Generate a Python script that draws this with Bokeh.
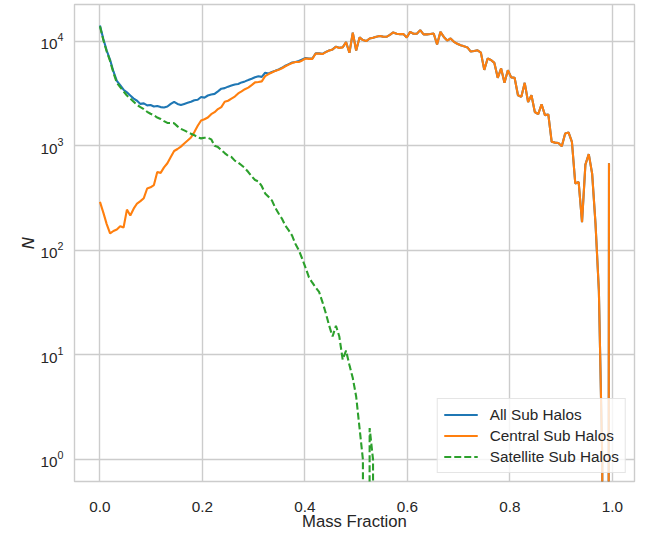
import numpy as np
from bokeh.plotting import figure
from bokeh.models import (FixedTicker, LogTickFormatter, Legend, LegendItem,
                          Range1d, ColumnDataSource)
from bokeh.embed import file_html
from bokeh.resources import INLINE

# ---------------- data ----------------
n_bins = 152
mass_fraction = list(np.arange(n_bins) / n_bins)

all_sub_halos = [
    14130, 10470, 8130, 6610, 5130, 4170, 3800, 3430, 3240, 3020,
    2820, 2690, 2510, 2540, 2430, 2450, 2370, 2400, 2340, 2320,
    2370, 2510, 2630, 2510, 2450, 2510, 2570, 2630, 2720, 2750,
    2920, 2880, 3020, 3090, 3130, 3310, 3510, 3550, 3670, 3760,
    3850, 3890, 4030, 4120, 4240, 4370, 4520, 4620, 4550, 4980,
    4900, 5070, 5200, 5370, 5560, 5820, 6030, 6240, 6310, 6460,
    6680, 6890, 6815, 6810, 7660, 7630, 7550, 7875, 8150, 8335,
    8850, 8625, 8720, 9780, 7740, 12026, 8134, 10842, 10231, 10000,
    10592, 10771, 11020, 11170, 11040, 10990, 11480, 12110, 11750, 11670,
    11670, 10840, 12250, 11750, 11750, 12740, 11590, 11590, 11700, 11830,
    9290, 12250, 10960, 10120, 10590, 9840, 9440, 9120, 8910, 8710,
    7940, 8040, 8170, 7760, 5310, 6820, 6610, 6190, 4460, 5480,
    3990, 5270, 4500, 4470, 3040, 2930, 3990, 2620, 3040, 2100,
    2000, 2490, 1960, 1990, 1090, 1070, 1060, 990, 1310, 1340,
    1090, 435, 450, 186, 660, 830, 540, 180, 41, 1,
    0, 680,
]

central_sub_halos = [
    290, 229, 178, 145, 153, 158, 170, 165, 245, 215,
    250, 280, 295, 315, 390, 400, 420, 560, 550, 620,
    680, 780, 890, 930, 980, 1050, 1120, 1200, 1350, 1550,
    1740, 1790, 1860, 2000, 2090, 2240, 2340, 2630, 2690, 2820,
    2950, 3160, 3310, 3470, 3590, 3800, 4030, 4070, 4120, 4620,
    4840, 5010, 5190, 5310, 5500, 5750, 5960, 6170, 6310, 6310,
    6530, 6820, 6760, 6760, 7620, 7590, 7520, 7850, 8130, 8320,
    8830, 8610, 8710, 9770, 7730, 12020, 8130, 10840, 10230, 10000,
    10590, 10770, 11020, 11170, 11040, 10990, 11480, 12110, 11750, 11670,
    11670, 10840, 12250, 11750, 11750, 12740, 11590, 11590, 11700, 11830,
    9290, 12250, 10960, 10120, 10590, 9840, 9440, 9120, 8910, 8710,
    7940, 8040, 8170, 7760, 5310, 6820, 6610, 6190, 4460, 5480,
    3990, 5270, 4500, 4470, 3040, 2930, 3990, 2620, 3040, 2100,
    2000, 2490, 1960, 1990, 1090, 1070, 1060, 990, 1310, 1340,
    1090, 435, 450, 186, 660, 830, 540, 180, 41, 1,
    0, 680,
]

satellite_sub_halos = [
    13840, 10240, 7950, 6460, 4980, 4000, 3630, 3310, 3020, 2820,
    2630, 2450, 2340, 2240, 2110, 2020, 1950, 1860, 1800, 1720,
    1650, 1650, 1640, 1530, 1450, 1400, 1350, 1300, 1260, 1200,
    1175, 1190, 1190, 1150, 1000, 970, 910, 850, 800, 780,
    720, 690, 650, 610, 560, 510, 470, 455, 410, 350,
    325, 300, 255, 225, 200, 172, 155, 138, 115, 100,
    83, 68, 55, 49, 44, 40, 32, 25, 19, 15,
    19, 15, 9, 11, 8, 6, 4, 2, 1, 0,
    2, 1,
] + [0] * 70

series_names = ["All Sub Halos", "Central Sub Halos", "Satellite Sub Halos"]
series_colors = ["#1f77b4", "#ff7f0e", "#2ca02c"]
series_dash = ["solid", "solid", "7 3"]

x_ticks = [0.0, 0.2, 0.4, 0.6, 0.8, 1.0]
x_tick_labels = ["0.0", "0.2", "0.4", "0.6", "0.8", "1.0"]
y_ticks = [1, 10, 100, 1000, 10000]
x_title = "Mass Fraction"
y_title = "N"

TEXT = "#262626"
GRID = "#cccccc"
FONT = "Liberation Sans"

# ---------------- figure ----------------
p = figure(width=646, height=534, y_axis_type="log",
           x_range=Range1d(-0.0497, 1.0432),
           y_range=Range1d(10 ** -0.2105, 10 ** 4.35),
           output_backend="svg", toolbar_location=None,
           min_border_left=74, min_border_right=12,
           min_border_top=4, min_border_bottom=53)

p.background_fill_color = "white"
p.border_fill_color = "white"
p.outline_line_color = GRID
p.outline_line_width = 1.4

p.xaxis.ticker = FixedTicker(ticks=x_ticks, minor_ticks=[])
p.xaxis.major_label_overrides = {t: l for t, l in zip(x_ticks, x_tick_labels)}
p.yaxis.ticker = FixedTicker(ticks=y_ticks, minor_ticks=[])
p.yaxis.formatter = LogTickFormatter()

for ax in (p.xaxis, p.yaxis):
    ax.axis_line_color = None
    ax.major_tick_line_color = None
    ax.minor_tick_line_color = None
    ax.major_tick_out = 0
    ax.major_tick_in = 0
    ax.minor_tick_out = 0
    ax.minor_tick_in = 0
    ax.major_label_text_font = FONT
    ax.major_label_text_font_size = "15.3px"
    ax.major_label_text_color = TEXT
    ax.axis_label_text_color = TEXT
    ax.axis_label_text_font_size = "16.7px"

p.xaxis.axis_label = x_title
p.xaxis.axis_label_text_font = FONT
p.xaxis.axis_label_text_font_style = "normal"
p.xaxis.major_label_standoff = 20
p.xaxis.axis_label_standoff = -3

p.yaxis.axis_label = y_title
p.yaxis.axis_label_text_font = "DejaVu Sans"
p.yaxis.axis_label_text_font_style = "italic"
p.yaxis.major_label_standoff = 11
p.yaxis.axis_label_standoff = 0

p.xgrid.grid_line_color = GRID
p.ygrid.grid_line_color = GRID
p.xgrid.grid_line_width = 1.4
p.ygrid.grid_line_width = 1.4

items = []
for name, ys, col, dash in zip(series_names,
                               [all_sub_halos, central_sub_halos, satellite_sub_halos],
                               series_colors, series_dash):
    arr = np.array(ys, dtype=float)
    arr = np.where(arr > 0, arr, 1e-30)  # like matplotlib's log clipping
    src = ColumnDataSource(dict(x=mass_fraction, y=arr))
    r = p.line("x", "y", source=src, line_color=col, line_width=2.1,
               line_dash=dash)
    items.append(LegendItem(label=name, renderers=[r]))

legend = Legend(items=items, location="bottom_right")
legend.label_text_font = FONT
legend.label_text_font_size = "15.3px"
legend.label_text_color = TEXT
legend.border_line_color = GRID
legend.border_line_width = 1.2
legend.background_fill_alpha = 0.8
legend.padding = 6
legend.spacing = 2
legend.glyph_width = 34
legend.glyph_height = 19
legend.label_height = 19
legend.label_standoff = 12
legend.margin = 8
p.add_layout(legend)

open("out.html", "w").write(file_html(p, INLINE))
